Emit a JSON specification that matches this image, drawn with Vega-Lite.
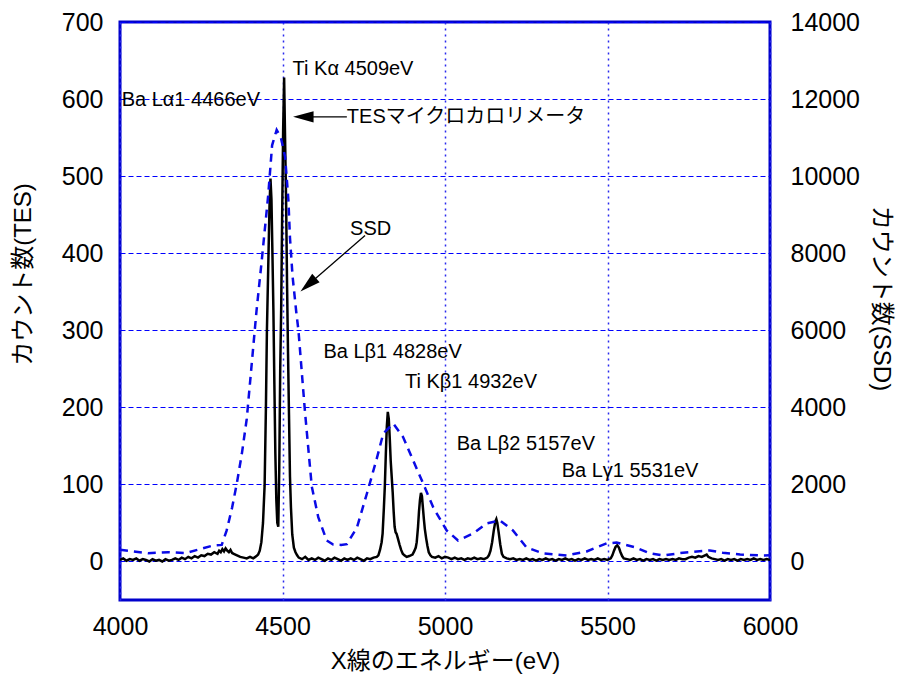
{
  "$schema": "https://vega.github.io/schema/vega-lite/v6.json",
  "width": 650,
  "height": 578,
  "autosize": "none",
  "padding": {"left": 120, "top": 22, "right": 128, "bottom": 75},
  "config": {
    "view": {"stroke": "#0000cc", "strokeWidth": 3},
    "font": "Liberation Sans, Noto Sans CJK JP",
    "axis": {"labelFont": "Liberation Sans", "titleFont": "Liberation Sans, Noto Sans CJK JP", "labelColor": "black", "titleColor": "black", "titleFontWeight": "normal", "domain": false, "ticks": false},
    "axisX": {"labelFontSize": 25, "labelPadding": 14, "labelFlush": false, "labelOverlap": false,
      "grid": true, "gridColor": "#2a2aee", "gridDash": [2, 4], "gridWidth": 1.5, "gridOpacity": 1, "titleFontSize": 24, "titlePadding": 10}
  },
  "datasets": {
    "tes": [
      {"E":4000,"c":2},{"E":4010,"c":4},{"E":4020,"c":1},{"E":4030,"c":3},{"E":4040,"c":2},{"E":4050,"c":4},{"E":4060,"c":1},{"E":4070,"c":3},{"E":4080,"c":2},{"E":4090,"c":0},{"E":4100,"c":3},{"E":4110,"c":1},{"E":4120,"c":2},{"E":4130,"c":0},{"E":4140,"c":3},{"E":4150,"c":1},{"E":4160,"c":2},{"E":4170,"c":4},{"E":4180,"c":2},{"E":4190,"c":5},{"E":4200,"c":3},{"E":4210,"c":6},{"E":4220,"c":4},{"E":4230,"c":7},{"E":4240,"c":5},{"E":4250,"c":8},{"E":4260,"c":7},{"E":4270,"c":10},{"E":4280,"c":9},{"E":4290,"c":12},{"E":4300,"c":10},{"E":4305,"c":14},{"E":4310,"c":12},{"E":4315,"c":16},{"E":4320,"c":13},{"E":4325,"c":17},{"E":4330,"c":14},{"E":4335,"c":12},{"E":4340,"c":15},{"E":4345,"c":11},{"E":4350,"c":10},{"E":4360,"c":8},{"E":4370,"c":6},{"E":4380,"c":5},{"E":4390,"c":4},{"E":4400,"c":6},{"E":4410,"c":4},{"E":4420,"c":7},{"E":4425,"c":9},{"E":4430,"c":14},{"E":4435,"c":25},{"E":4440,"c":50},{"E":4445,"c":99},{"E":4449,"c":200},{"E":4452,"c":298},{"E":4456,"c":380},{"E":4460,"c":460},{"E":4463,"c":497},{"E":4466,"c":470},{"E":4469,"c":400},{"E":4472,"c":326},{"E":4475,"c":230},{"E":4478,"c":140},{"E":4481,"c":80},{"E":4484,"c":50},{"E":4487,"c":45},{"E":4490,"c":120},{"E":4493,"c":250},{"E":4496,"c":330},{"E":4499,"c":450},{"E":4502,"c":560},{"E":4505,"c":628},{"E":4508,"c":547},{"E":4511,"c":470},{"E":4514,"c":360},{"E":4517,"c":270},{"E":4520,"c":190},{"E":4523,"c":110},{"E":4526,"c":70},{"E":4530,"c":35},{"E":4535,"c":18},{"E":4540,"c":12},{"E":4545,"c":8},{"E":4550,"c":5},{"E":4560,"c":3},{"E":4570,"c":6},{"E":4580,"c":2},{"E":4590,"c":4},{"E":4600,"c":2},{"E":4610,"c":5},{"E":4620,"c":3},{"E":4630,"c":1},{"E":4640,"c":4},{"E":4650,"c":2},{"E":4660,"c":5},{"E":4670,"c":3},{"E":4680,"c":1},{"E":4690,"c":4},{"E":4700,"c":2},{"E":4710,"c":4},{"E":4720,"c":2},{"E":4730,"c":5},{"E":4740,"c":3},{"E":4750,"c":1},{"E":4760,"c":4},{"E":4770,"c":3},{"E":4780,"c":5},{"E":4790,"c":6},{"E":4795,"c":8},{"E":4800,"c":15},{"E":4805,"c":25},{"E":4808,"c":36},{"E":4812,"c":70},{"E":4815,"c":99},{"E":4818,"c":140},{"E":4821,"c":175},{"E":4824,"c":194},{"E":4827,"c":185},{"E":4830,"c":160},{"E":4833,"c":130},{"E":4836,"c":110},{"E":4839,"c":90},{"E":4842,"c":65},{"E":4845,"c":45},{"E":4848,"c":38},{"E":4851,"c":36},{"E":4855,"c":30},{"E":4860,"c":22},{"E":4865,"c":15},{"E":4870,"c":10},{"E":4875,"c":8},{"E":4882,"c":6},{"E":4890,"c":7},{"E":4900,"c":9},{"E":4905,"c":13},{"E":4910,"c":18},{"E":4913,"c":25},{"E":4917,"c":45},{"E":4920,"c":65},{"E":4923,"c":80},{"E":4926,"c":89},{"E":4929,"c":85},{"E":4932,"c":70},{"E":4935,"c":55},{"E":4938,"c":42},{"E":4942,"c":30},{"E":4946,"c":20},{"E":4950,"c":12},{"E":4955,"c":8},{"E":4960,"c":6},{"E":4970,"c":5},{"E":4980,"c":7},{"E":4990,"c":4},{"E":5000,"c":6},{"E":5010,"c":5},{"E":5020,"c":3},{"E":5030,"c":5},{"E":5040,"c":3},{"E":5050,"c":4},{"E":5060,"c":2},{"E":5070,"c":4},{"E":5080,"c":3},{"E":5090,"c":5},{"E":5100,"c":3},{"E":5110,"c":4},{"E":5120,"c":3},{"E":5130,"c":5},{"E":5135,"c":8},{"E":5140,"c":14},{"E":5145,"c":25},{"E":5150,"c":40},{"E":5155,"c":52},{"E":5158,"c":55},{"E":5161,"c":50},{"E":5165,"c":38},{"E":5170,"c":22},{"E":5175,"c":10},{"E":5180,"c":6},{"E":5190,"c":4},{"E":5200,"c":3},{"E":5210,"c":4},{"E":5220,"c":2},{"E":5230,"c":3},{"E":5240,"c":2},{"E":5250,"c":4},{"E":5260,"c":2},{"E":5270,"c":3},{"E":5280,"c":1},{"E":5290,"c":3},{"E":5300,"c":2},{"E":5310,"c":4},{"E":5320,"c":2},{"E":5330,"c":3},{"E":5340,"c":1},{"E":5350,"c":3},{"E":5360,"c":2},{"E":5370,"c":4},{"E":5380,"c":2},{"E":5390,"c":3},{"E":5400,"c":1},{"E":5410,"c":3},{"E":5420,"c":2},{"E":5430,"c":4},{"E":5440,"c":2},{"E":5450,"c":3},{"E":5460,"c":2},{"E":5470,"c":4},{"E":5480,"c":2},{"E":5490,"c":3},{"E":5500,"c":2},{"E":5510,"c":4},{"E":5515,"c":8},{"E":5520,"c":14},{"E":5525,"c":19},{"E":5530,"c":21},{"E":5535,"c":18},{"E":5540,"c":12},{"E":5545,"c":7},{"E":5550,"c":4},{"E":5560,"c":3},{"E":5570,"c":2},{"E":5580,"c":4},{"E":5590,"c":2},{"E":5600,"c":3},{"E":5610,"c":1},{"E":5620,"c":3},{"E":5630,"c":2},{"E":5640,"c":3},{"E":5650,"c":1},{"E":5660,"c":3},{"E":5670,"c":2},{"E":5680,"c":3},{"E":5690,"c":2},{"E":5700,"c":3},{"E":5710,"c":2},{"E":5720,"c":4},{"E":5730,"c":3},{"E":5740,"c":3},{"E":5750,"c":5},{"E":5760,"c":6},{"E":5770,"c":5},{"E":5780,"c":7},{"E":5790,"c":6},{"E":5800,"c":8},{"E":5805,"c":9},{"E":5810,"c":6},{"E":5820,"c":4},{"E":5830,"c":3},{"E":5840,"c":2},{"E":5850,"c":3},{"E":5860,"c":1},{"E":5870,"c":3},{"E":5880,"c":2},{"E":5890,"c":3},{"E":5900,"c":1},{"E":5910,"c":3},{"E":5920,"c":2},{"E":5930,"c":3},{"E":5940,"c":2},{"E":5950,"c":4},{"E":5960,"c":2},{"E":5970,"c":3},{"E":5980,"c":2},{"E":5990,"c":3},{"E":6000,"c":2}
    ],
    "ssd": [
      {"E":4000,"c":304},{"E":4086,"c":216},{"E":4148,"c":242},{"E":4200,"c":216},{"E":4251,"c":330},{"E":4287,"c":416},{"E":4313,"c":430},{"E":4328,"c":800},{"E":4345,"c":1400},{"E":4360,"c":2050},{"E":4375,"c":2800},{"E":4390,"c":3700},{"E":4405,"c":5100},{"E":4420,"c":6500},{"E":4436,"c":7800},{"E":4456,"c":9500},{"E":4468,"c":10800},{"E":4482,"c":11200},{"E":4495,"c":11000},{"E":4508,"c":10500},{"E":4518,"c":9400},{"E":4523,"c":8400},{"E":4531,"c":7400},{"E":4542,"c":6500},{"E":4549,"c":6000},{"E":4569,"c":3900},{"E":4590,"c":1950},{"E":4610,"c":1150},{"E":4636,"c":545},{"E":4656,"c":440},{"E":4680,"c":430},{"E":4698,"c":450},{"E":4729,"c":880},{"E":4760,"c":1770},{"E":4791,"c":2700},{"E":4810,"c":3320},{"E":4841,"c":3580},{"E":4871,"c":3230},{"E":4902,"c":2620},{"E":4933,"c":2020},{"E":4964,"c":1400},{"E":5005,"c":805},{"E":5040,"c":545},{"E":5087,"c":727},{"E":5128,"c":987},{"E":5169,"c":1065},{"E":5209,"c":805},{"E":5251,"c":364},{"E":5302,"c":208},{"E":5374,"c":156},{"E":5436,"c":260},{"E":5497,"c":468},{"E":5528,"c":490},{"E":5585,"c":370},{"E":5631,"c":208},{"E":5671,"c":156},{"E":5723,"c":216},{"E":5775,"c":260},{"E":5815,"c":286},{"E":5855,"c":225},{"E":5908,"c":182},{"E":5969,"c":156},{"E":6000,"c":160}
    ],
    "labels": [
      {"E":4531,"c":639,"t":"Ti Kα 4509eV"},
      {"E":4005,"c":599,"t":"Ba Lα1 4466eV"},
      {"E":4698,"c":577,"t":"TESマイクロカロリメータ"},
      {"E":4708,"c":432,"t":"SSD"},
      {"E":4626,"c":272,"t":"Ba Lβ1 4828eV"},
      {"E":4877,"c":233,"t":"Ti Kβ1 4932eV"},
      {"E":5036,"c":153,"t":"Ba Lβ2 5157eV"},
      {"E":5359,"c":118,"t":"Ba Lγ1 5531eV"}
    ],
    "arrows": [
      {"E":4698,"c":577,"E2":4560,"c2":577,"hx":4564,"hy":577,"a":270},
      {"E":4754,"c":423,"E2":4582,"c2":360,"hx":4579,"hy":359,"a":229}
    ]
  },
  "layer": [
    {
      "data": {"name": "tes"},
      "mark": {"type": "line", "color": "black", "strokeWidth": 2.5, "clip": true},
      "encoding": {
        "x": {"field": "E", "type": "quantitative", "scale": {"domain": [4000, 6000], "nice": false}, "axis": {"values": [4000, 4500, 5000, 5500, 6000], "format": "d", "title": "X線のエネルギー(eV)"}},
        "y": {"field": "c", "type": "quantitative", "scale": {"domain": [-50, 700], "nice": false, "zero": false},
          "axis": {"values": [0, 100, 200, 300, 400, 500, 600, 700], "labelFontSize": 25, "labelPadding": 17, "grid": true, "gridColor": "#0000ff", "gridOpacity": 1, "gridDash": [5, 3], "gridWidth": 1,
            "title": "カウント数(TES)", "titleFontSize": 24, "titleAngle": -90, "titleX": -97, "titleY": 252, "titleAlign": "center", "titleBaseline": "middle"}}
      }
    },
    {
      "data": {"name": "ssd"},
      "mark": {"type": "line", "color": "#0a0ae6", "strokeWidth": 2.5, "strokeDash": [8, 6], "clip": true},
      "encoding": {
        "x": {"field": "E", "type": "quantitative", "scale": {"domain": [4000, 6000], "nice": false}, "axis": {"values": [4000, 4500, 5000, 5500, 6000], "format": "d", "title": "X線のエネルギー(eV)"}},
        "y": {"field": "c", "type": "quantitative", "scale": {"domain": [-1000, 14000], "nice": false, "zero": false},
          "axis": {"orient": "right", "values": [0, 2000, 4000, 6000, 8000, 10000, 12000, 14000], "format": "d", "labelFontSize": 25, "labelPadding": 20, "grid": false,
            "title": "カウント数(SSD)", "titleFontSize": 24, "titleAngle": 90, "titleX": 110, "titleY": 276, "titleAlign": "center", "titleBaseline": "middle"}}
      }
    },
    {
      "data": {"name": "labels"},
      "mark": {"type": "text", "align": "left", "baseline": "middle", "fontSize": 20, "color": "black", "font": "Liberation Sans, Noto Sans CJK JP"},
      "encoding": {
        "x": {"field": "E", "type": "quantitative", "scale": {"domain": [4000, 6000], "nice": false}, "axis": {"values": [4000, 4500, 5000, 5500, 6000], "format": "d", "title": "X線のエネルギー(eV)"}},
        "y": {"field": "c", "type": "quantitative", "scale": {"domain": [-50, 700], "nice": false, "zero": false}, "axis": null},
        "text": {"field": "t"}
      }
    },
    {
      "data": {"name": "arrows"},
      "mark": {"type": "rule", "color": "black", "strokeWidth": 1.3},
      "encoding": {
        "x": {"field": "E", "type": "quantitative", "scale": {"domain": [4000, 6000], "nice": false}, "axis": {"values": [4000, 4500, 5000, 5500, 6000], "format": "d", "title": "X線のエネルギー(eV)"}},
        "x2": {"field": "E2"},
        "y": {"field": "c", "type": "quantitative", "scale": {"domain": [-50, 700], "nice": false, "zero": false}, "axis": null},
        "y2": {"field": "c2"}
      }
    },
    {
      "data": {"name": "arrows"},
      "mark": {"type": "point", "shape": "M0,-1L0.55,1L-0.55,1Z", "size": 420, "filled": true, "color": "black", "opacity": 1},
      "encoding": {
        "x": {"field": "hx", "type": "quantitative", "scale": {"domain": [4000, 6000], "nice": false}, "axis": {"values": [4000, 4500, 5000, 5500, 6000], "format": "d", "title": "X線のエネルギー(eV)"}},
        "y": {"field": "hy", "type": "quantitative", "scale": {"domain": [-50, 700], "nice": false, "zero": false}, "axis": null},
        "angle": {"field": "a", "type": "quantitative", "scale": null}
      }
    }
  ],
  "resolve": {"scale": {"y": "independent", "x": "shared"}}
}
